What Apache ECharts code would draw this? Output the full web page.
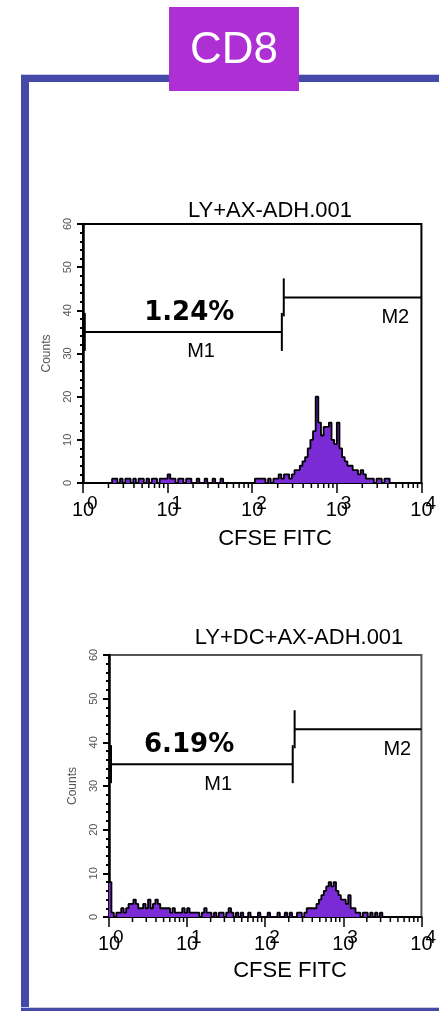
<!DOCTYPE html>
<html><head><meta charset="utf-8">
<script src="https://cdn.jsdelivr.net/npm/echarts@6/dist/echarts.min.js"></script>
<style>html,body{margin:0;padding:0;background:#fff}#c{width:439px;height:1011px}</style>
</head><body><div id="c"></div>
<script>
// ---------- data ----------
const panelLabel = 'CD8';
const chartTitles = ['LY+AX-ADH.001', 'LY+DC+AX-ADH.001'];
const xAxisTitle = 'CFSE FITC';
const yAxisTitle = 'Counts';
const xTickBase = '10';
const xTickExponents = ['0', '1', '2', '3', '4'];
const yTickLabels = ['0', '10', '20', '30', '40', '50', '60'];
const binsPerDecade = 32;
// histogram counts per log bin (10^(i/32) .. 10^((i+1)/32))
const countsA = [
  0,0,0,0,0,0,0,0,0,0, 0,1,1,0,1,0,1,1,0,1,
  0,1,1,0,1,0,1,1,0,1, 1,1,2,1,1,0,1,1,0,1,
  1,0,0,1,0,0,1,0,0,1, 0,0,1,0,0,0,0,0,0,0,
  0,0,0,0,0,1,1,1,1,0, 1,0,1,1,2,1,2,2,1,2,
  3,3,4,5,6,8,10,12,20,14, 11,13,13,14,10,9,14,8,6,5,
  4,4,3,3,2,3,2,1,1,1, 0,1,1,0,1,1,0,0,0,0,
  0,0,0,0,0,0,0,0
];
const countsB = [
  8,1,0,1,1,2,1,2,3,3, 4,3,2,2,3,2,4,2,3,4,
  3,2,2,2,2,1,2,1,1,1, 2,1,2,1,1,1,1,0,1,2,
  1,1,0,1,0,1,1,0,1,2, 1,0,1,0,1,0,0,1,0,0,
  0,1,0,0,0,1,0,0,0,1, 0,0,1,0,1,0,0,1,1,0,
  1,2,2,2,2,3,4,5,6,7, 8,7,8,6,5,4,4,3,5,2,
  2,1,1,0,1,1,0,1,0,1, 0,1,0,0,0,0,0,0,0,0,
  0,0,0,0,0,0,0,0
];
const markerNames = ['M1', 'M2'];
// [start, end, count level]
const markersA = [[1.05, 224, 35], [236, 10000, 43]];
const markersB = [[1.06, 225, 35], [238, 10000, 43]];
const percentLabels = ['1.24%', '6.19%'];

// ---------- layout / style ----------
const grids = [
  {left: 83, right: 15, top: 224, bottom: 528, borderColor: '#000'},
  {left: 109, right: 17, top: 655, bottom: 94, borderColor: '#555'}
];
const titlePos = [[270, 211], [299, 638]];
const xTitlePos = [[275, 539], [290, 971]];
const pctFrac = [0.53, 0.43];
const nameFrac = [0.59, 0.81];

const countsSets = [countsA, countsB];
const markerSets = [markersA, markersB];

const minorTickValues = [];
for (let e = 0; e < 4; e++) for (let d = 2; d <= 9; d++) minorTickValues.push(d * Math.pow(10, e));

function histData(counts) {
  const d = counts.map((v, i) => [Math.pow(10, i / binsPerDecade), v]);
  d.push([10000, 0]);
  return d;
}

const option = {
  animation: false,
  backgroundColor: '#fff',
  grid: [], xAxis: [], yAxis: [], series: [],
  graphic: []
};

for (let k = 0; k < 2; k++) {
  const g = grids[k];
  option.grid.push({left: g.left, right: g.right, top: g.top, bottom: g.bottom,
    show: true, borderColor: g.borderColor, borderWidth: 2, backgroundColor: 'transparent'});
  const xBase = {type: 'log', logBase: 10, min: 1, max: 10000, gridIndex: k, position: 'bottom', splitLine: {show: false}};
  option.xAxis.push(Object.assign({}, xBase, {
    axisLine: {show: true, lineStyle: {color: '#000', width: 2}},
    axisTick: {show: true, length: 10, lineStyle: {color: '#000', width: 1.5}},
    minorTick: {show: false},
    axisLabel: {show: true, showMinLabel: true, showMaxLabel: true, formatter: () => xTickBase,
      fontSize: 20, fontFamily: 'Liberation Sans', color: '#000', margin: 17}
  }));
  option.xAxis.push(Object.assign({}, xBase, {
    axisLine: {show: false}, axisTick: {show: false},
    axisLabel: {show: true, showMinLabel: true, showMaxLabel: true,
      formatter: (v) => xTickExponents[Math.round(Math.log10(v))],
      align: 'left', padding: [0, 0, 0, 4],
      fontSize: 19, fontFamily: 'Liberation Sans', color: '#000', margin: 11}
  }));
  option.yAxis.push({
    type: 'value', min: 0, max: 60, interval: 10, gridIndex: k,
    splitLine: {show: false},
    axisLine: {show: true, lineStyle: {color: '#000', width: 2.5}},
    axisTick: {show: true, length: 6, lineStyle: {color: '#000', width: 2}},
    minorTick: {show: true, splitNumber: 5, length: 3, lineStyle: {color: '#000', width: 2}},
    axisLabel: {rotate: 90, fontSize: 11, color: '#555', margin: 10,
      formatter: (v) => yTickLabels[Math.round(v / 10)]},
    name: yAxisTitle, nameLocation: 'middle', nameGap: 30, nameRotate: 90,
    nameTextStyle: {fontSize: 12, color: '#555'}
  });
  option.series.push({
    type: 'line', xAxisIndex: 2 * k, yAxisIndex: k, step: 'end', symbol: 'none',
    data: histData(countsSets[k]),
    lineStyle: {color: '#000', width: 1.8},
    areaStyle: {color: '#7a2bd6', opacity: 1},
    z: 3
  });
  option.series.push({
    type: 'custom', xAxisIndex: 2 * k, yAxisIndex: k, clip: false, z: 4,
    data: minorTickValues.map(v => [v, 0]),
    renderItem: (params, api) => {
      const p = api.coord([api.value(0), 0]);
      return {type: 'line', shape: {x1: p[0], y1: p[1], x2: p[0], y2: p[1] + 5},
        style: {stroke: '#000', lineWidth: 1.5}};
    }
  });
  option.series.push({
    type: 'custom', xAxisIndex: 2 * k, yAxisIndex: k, clip: false, z: 5,
    data: markerSets[k].map(m => [m[0], m[2]]),
    renderItem: (params, api) => {
      const i = params.dataIndex;
      const m = markerSets[k][i];
      const p0 = api.coord([m[0], m[2]]);
      const p1 = api.coord([m[1], m[2]]);
      const y = p0[1], h = 19;
      const ls = {stroke: '#000', lineWidth: 2};
      const ch = [
        {type: 'line', shape: {x1: p0[0], y1: y, x2: p1[0], y2: y}, style: ls},
        {type: 'line', shape: {x1: p0[0], y1: y - h, x2: p0[0], y2: y + h}, style: ls},
        {type: 'text', x: p0[0] + (p1[0] - p0[0]) * nameFrac[i], y: y + 20,
          style: {text: markerNames[i], fontSize: 20, fontFamily: 'Liberation Sans', fill: '#000',
            align: 'center', verticalAlign: 'middle'}}
      ];
      if (i === 0) {
        ch.push({type: 'line', shape: {x1: p1[0], y1: y - h, x2: p1[0], y2: y + h}, style: ls});
        ch.push({type: 'text', x: p0[0] + (p1[0] - p0[0]) * pctFrac[k], y: y - 19,
          style: {text: percentLabels[k], fontSize: 26, fontWeight: 'bold', fontFamily: 'DejaVu Sans',
            fill: '#000', align: 'center', verticalAlign: 'middle'}});
      }
      return {type: 'group', children: ch};
    }
  });
  option.graphic.push({type: 'text', x: titlePos[k][0], y: titlePos[k][1],
    style: {text: chartTitles[k], fontSize: 22, fontFamily: 'Liberation Sans', fill: '#000',
      align: 'center', verticalAlign: 'middle'}});
  option.graphic.push({type: 'text', x: xTitlePos[k][0], y: xTitlePos[k][1],
    style: {text: xAxisTitle, fontSize: 22, fontFamily: 'Liberation Sans', fill: '#000',
      align: 'center', verticalAlign: 'middle'}});
}

// frame and panel label
option.graphic.push(
  {type: 'rect', shape: {x: 21, y: 74, width: 418, height: 1}, style: {fill: '#c8c9e6'}, z: 10},
  {type: 'rect', shape: {x: 21, y: 75, width: 418, height: 7}, style: {fill: '#4549a8'}, z: 10},
  {type: 'rect', shape: {x: 21, y: 75, width: 8, height: 936}, style: {fill: '#4549a8'}, z: 10},
  {type: 'rect', shape: {x: 21, y: 1007, width: 418, height: 1}, style: {fill: '#c8c9e6'}, z: 10},
  {type: 'rect', shape: {x: 21, y: 1008, width: 418, height: 3}, style: {fill: '#4549a8'}, z: 10},
  {type: 'rect', shape: {x: 169, y: 7, width: 130, height: 84}, style: {fill: '#ae2fd4'}, z: 11},
  {type: 'text', x: 234, y: 51, z: 12,
    style: {text: panelLabel, fontSize: 44, fontFamily: 'Liberation Sans', fill: '#fff',
      align: 'center', verticalAlign: 'middle'}}
);

const chart = echarts.init(document.getElementById('c'), null, {renderer: 'canvas'});
chart.setOption(option);
</script>
</body></html>
